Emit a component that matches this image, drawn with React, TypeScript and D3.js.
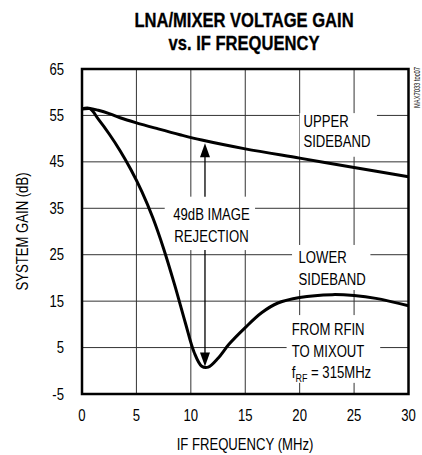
import React from "react";
import * as d3 from "d3";

const W = 422;
const H = 455;

const title = ["LNA/MIXER VOLTAGE GAIN", "vs. IF FREQUENCY"];
const xLabel = "IF FREQUENCY (MHz)";
const yLabel = "SYSTEM GAIN (dB)";
const watermark = "MAX7033 toc07";

const xTicks = [0, 5, 10, 15, 20, 25, 30];
const yTicks = [-5, 5, 15, 25, 35, 45, 55, 65];

const upperFreq = [0, 0.7, 1.5, 2.5, 3.5, 5, 7, 9, 11, 15, 20, 25, 30];
const upperGain = [56.4, 56.5, 56.1, 55.4, 54.5, 53.4, 52.1, 50.85, 49.7, 47.8, 45.8, 43.8, 41.8];

const lowerFreq = [0, 0.7, 1.5, 2.5, 3.5, 4.5, 5.5, 6.5, 7.5, 8.5, 9.5, 10.3, 11, 11.6, 12.5, 13.5, 15, 16.5, 18, 20, 23, 25, 27, 30];
const lowerGain = [56.4, 56.5, 54.2, 51.0, 47.4, 43.3, 38.6, 33.0, 26.3, 18.6, 10.3, 4.0, 1.0, 0.8, 2.7, 5.7, 9.3, 12.5, 14.6, 15.8, 16.4, 16.2, 15.6, 14.0];

const FONT = "'Liberation Sans', Arial, sans-serif";
const SX = 0.82;

function T(props: any) {
  const { x, y, rot, sx = SX, children, ...rest } = props;
  const tr = `translate(${x},${y})${rot ? ` rotate(${rot})` : ""} scale(${sx},1)`;
  return (
    <text transform={tr} {...rest}>
      {children}
    </text>
  );
}

export default function App() {
  const x = d3.scaleLinear().domain([0, 30]).range([82, 408.5]);
  const y = d3.scaleLinear().domain([-5, 65]).range([394, 69]);

  const line = d3
    .line<[number, number]>()
    .x((d) => x(d[0]))
    .y((d) => y(d[1]))
    .curve(d3.curveCatmullRom.alpha(0.5));

  const upper = line(upperFreq.map((f, i) => [f, upperGain[i]]) as [number, number][]) || "";
  const lower = line(lowerFreq.map((f, i) => [f, lowerGain[i]]) as [number, number][]) || "";

  // white boxes behind annotations (data units)
  const boxes = [
    { x0: 7.6, x1: 15.9, y0: 37.5, y1: 26.0 },
    { x0: 20.0, x1: 27.1, y0: 55.5, y1: 46.1 },
    { x0: 19.3, x1: 26.5, y0: 27.1, y1: 17.4 },
    { x0: 18.8, x1: 27.4, y0: 12.0, y1: -2.6 },
  ];

  const arrowF = 11.3;
  const upTip = 49.0;
  const upBase = 37.5;
  const downBase = 26.0;
  const downTip = 0.9;
  const ah = 14;
  const aw = 5;

  const ax = x(arrowF);

  return (
    <svg
      width={W}
      height={H}
      style={{ position: "absolute", left: 0, top: 0, background: "#fff" }}
      fontFamily={FONT}
    >
      <rect x={0} y={0} width={W} height={H} fill="#fff" />
      {/* title */}
      <T x={244} y={27} sx={0.85} textAnchor="middle" fontSize={19.5} fontWeight="bold" fill="#000" stroke="#000" strokeWidth={0.3}>
        {title[0]}
      </T>
      <T x={244} y={50} sx={0.85} textAnchor="middle" fontSize={19.5} fontWeight="bold" fill="#000" stroke="#000" strokeWidth={0.3}>
        {title[1]}
      </T>

      {/* grid */}
      {xTicks.slice(1, -1).map((t) => (
        <line key={"gx" + t} x1={x(t)} x2={x(t)} y1={y(65)} y2={y(-5)} stroke="#333" strokeWidth={1} />
      ))}
      {yTicks.slice(1, -1).map((t) => (
        <line key={"gy" + t} x1={x(0)} x2={x(30)} y1={y(t)} y2={y(t)} stroke="#333" strokeWidth={1} />
      ))}

      {boxes.map((b, i) => (
        <rect
          key={"b" + i}
          x={x(b.x0)}
          y={y(b.y0)}
          width={x(b.x1) - x(b.x0)}
          height={y(b.y1) - y(b.y0)}
          fill="#fff"
        />
      ))}

      {/* curves */}
      <path d={upper} fill="none" stroke="#000" strokeWidth={3} strokeLinejoin="round" />
      <path d={lower} fill="none" stroke="#000" strokeWidth={3} strokeLinejoin="round" />

      {/* frame */}
      <rect
        x={x(0)}
        y={y(65)}
        width={x(30) - x(0)}
        height={y(-5) - y(65)}
        fill="none"
        stroke="#000"
        strokeWidth={2.5}
      />

      {/* arrows */}
      <line x1={ax} x2={ax} y1={y(upTip) + ah - 1} y2={y(upBase)} stroke="#000" strokeWidth={1.3} />
      <path
        d={`M${ax},${y(upTip)} L${ax - aw},${y(upTip) + ah} L${ax + aw},${y(upTip) + ah} Z`}
        fill="#000"
      />
      <line x1={ax} x2={ax} y1={y(downBase)} y2={y(downTip) - ah + 1} stroke="#000" strokeWidth={1.3} />
      <path
        d={`M${ax},${y(downTip)} L${ax - aw},${y(downTip) - ah} L${ax + aw},${y(downTip) - ah} Z`}
        fill="#000"
      />

      {/* annotations */}
      <g fontSize={16} fill="#000">
        <T x={x(11.9)} y={y(32.5)} textAnchor="middle">49dB IMAGE</T>
        <T x={x(11.9)} y={y(27.8)} textAnchor="middle">REJECTION</T>
        <T x={x(20.35)} y={y(52.6)}>UPPER</T>
        <T x={x(20.35)} y={y(48.3)}>SIDEBAND</T>
        <T x={x(19.9)} y={y(23.15)}>LOWER</T>
        <T x={x(19.9)} y={y(18.5)}>SIDEBAND</T>
        <T x={x(19.27)} y={y(7.7)}>FROM RFIN</T>
        <T x={x(19.27)} y={y(3.03)}>TO MIXOUT</T>
        <T x={x(19.27)} y={y(-1.6)}>
          f
          <tspan fontSize={11} dy={4}>RF</tspan>
          <tspan dy={-4}> = 315MHz</tspan>
        </T>
      </g>

      {/* tick labels */}
      <g fontSize={16} fill="#000">
        {yTicks.map((t) => (
          <T key={"yt" + t} x={64} y={y(t)} dy="0.35em" textAnchor="end">
            {t}
          </T>
        ))}
        {xTicks.map((t) => (
          <T key={"xt" + t} x={x(t)} y={421} textAnchor="middle">
            {t}
          </T>
        ))}
        <T x={245} y={450} textAnchor="middle">
          {xLabel}
        </T>
        <T x={28} y={(y(65) + y(-5)) / 2} rot={-90} textAnchor="middle">
          {yLabel}
        </T>
      </g>

      <text
        transform="translate(420, 67) rotate(-90)"
        textAnchor="end"
        fontSize={9}
        textLength={41}
        lengthAdjust="spacingAndGlyphs"
        fill="#000"
      >
        {watermark}
      </text>
    </svg>
  );
}
